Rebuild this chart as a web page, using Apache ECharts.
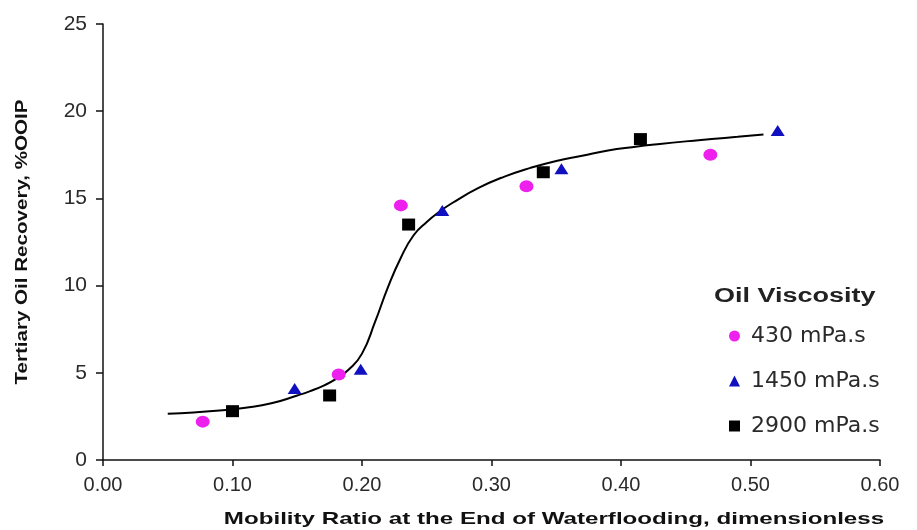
<!DOCTYPE html>
<html>
<head>
<meta charset="utf-8">
<script src="https://cdn.jsdelivr.net/npm/echarts@6/dist/echarts.min.js"></script>
<style>
  html, body { margin: 0; padding: 0; background: #ffffff; }
  #chart { width: 917px; height: 530px; }
</style>
</head>
<body>
<div id="chart"></div>
<script>
// Measured points: [mobility ratio, tertiary recovery %OOIP]
const visc430 = [[0.077, 2.2], [0.182, 4.9], [0.230, 14.6], [0.327, 15.7], [0.469, 17.5]];
const visc1450 = [[0.148, 4.1], [0.199, 5.2], [0.262, 14.3], [0.354, 16.7], [0.521, 18.9]];
const visc2900 = [[0.100, 2.8], [0.175, 3.7], [0.236, 13.5], [0.340, 16.5], [0.415, 18.4]];

// Fitted trend curve (denser through the steep part)
const trendX = [0.05, 0.07, 0.09, 0.11, 0.13, 0.15, 0.16, 0.17, 0.18, 0.19, 0.20, 0.21, 0.22, 0.23, 0.24, 0.25, 0.26, 0.27, 0.29, 0.31, 0.33, 0.35, 0.37, 0.39, 0.41, 0.43, 0.45, 0.47, 0.49, 0.51];
const trendY = [2.65, 2.73, 2.84, 3.00, 3.25, 3.70, 3.95, 4.25, 4.65, 5.20, 6.10, 7.90, 9.90, 11.60, 12.90, 13.65, 14.25, 14.75, 15.60, 16.25, 16.75, 17.15, 17.45, 17.75, 17.95, 18.12, 18.27, 18.40, 18.53, 18.67];

const seriesNames = ['430 mPa.s', '1450 mPa.s', '2900 mPa.s'];
const xTitle = 'Mobility Ratio at the End of Waterflooding, dimensionless';
const yTitle = 'Tertiary Oil Recovery, %OOIP';
const legendTitle = 'Oil Viscosity';

const chart = echarts.init(document.getElementById('chart'), null, { renderer: 'canvas' });

const axisText = { color: '#2a2a2a', fontSize: 20, fontFamily: 'Liberation Sans, Arial, sans-serif' };

chart.setOption({
  backgroundColor: '#ffffff',
  animation: false,
  grid: { left: 103, right: 37, top: 24, bottom: 70, containLabel: false },
  xAxis: {
    type: 'value', min: 0, max: 0.6, interval: 0.1,
    axisLine: { show: true, lineStyle: { color: '#111', width: 1.5 } },
    axisTick: { show: true, inside: false, length: 6, lineStyle: { color: '#111', width: 1.5 } },
    splitLine: { show: false },
    axisLabel: { ...axisText, margin: 15, formatter: v => v.toFixed(2) }
  },
  yAxis: {
    type: 'value', min: 0, max: 25, interval: 5,
    axisLine: { show: true, lineStyle: { color: '#111', width: 1.5 } },
    axisTick: { show: true, inside: false, length: 7, lineStyle: { color: '#111', width: 1.5 } },
    splitLine: { show: false },
    axisLabel: { ...axisText, fontSize: 21, margin: 16 }
  },
  legend: {
    orient: 'vertical', left: 724, top: 320,
    itemWidth: 11, itemHeight: 11, itemGap: 23,
    textStyle: { color: '#2a2a2a', fontSize: 22, fontFamily: 'DejaVu Sans, sans-serif', padding: [0, 0, 0, 6] },
    data: [
      { name: seriesNames[0], icon: 'circle' },
      { name: seriesNames[1], icon: 'triangle' },
      { name: seriesNames[2], icon: 'rect' }
    ]
  },
  graphic: [
    {
      type: 'text', x: 714, y: 296, scaleX: 1.35,
      style: { text: legendTitle, fill: '#222', font: 'bold 20px "Liberation Sans", Arial, sans-serif', verticalAlign: 'middle' }
    },
    {
      type: 'text', x: 554, y: 519, scaleX: 1.42,
      style: { text: xTitle, fill: '#111', font: 'bold 17px "Liberation Sans", Arial, sans-serif', align: 'center', verticalAlign: 'middle' }
    },
    {
      type: 'text', x: 22, y: 242, rotation: Math.PI / 2, scaleX: 1.21,
      style: { text: yTitle, fill: '#111', font: 'bold 17px "Liberation Sans", Arial, sans-serif', align: 'center', verticalAlign: 'middle' }
    }
  ],
  series: [
    {
      name: 'trend', type: 'line', data: trendX.map((x, i) => [x, trendY[i]]),
      showSymbol: false, smooth: 0.5,
      lineStyle: { color: '#000', width: 2 }, z: 1, silent: true
    },
    {
      name: seriesNames[0], type: 'scatter', data: visc430,
      symbol: 'circle', symbolSize: [14, 12],
      itemStyle: { color: '#ee20ee', opacity: 1 }, z: 3
    },
    {
      name: seriesNames[1], type: 'scatter', data: visc1450,
      symbol: 'triangle', symbolSize: [14, 11],
      itemStyle: { color: '#1010c0', opacity: 1 }, z: 3
    },
    {
      name: seriesNames[2], type: 'scatter', data: visc2900,
      symbol: 'rect', symbolSize: [13, 12],
      itemStyle: { color: '#000', opacity: 1 }, z: 3
    }
  ]
});
</script>
</body>
</html>
